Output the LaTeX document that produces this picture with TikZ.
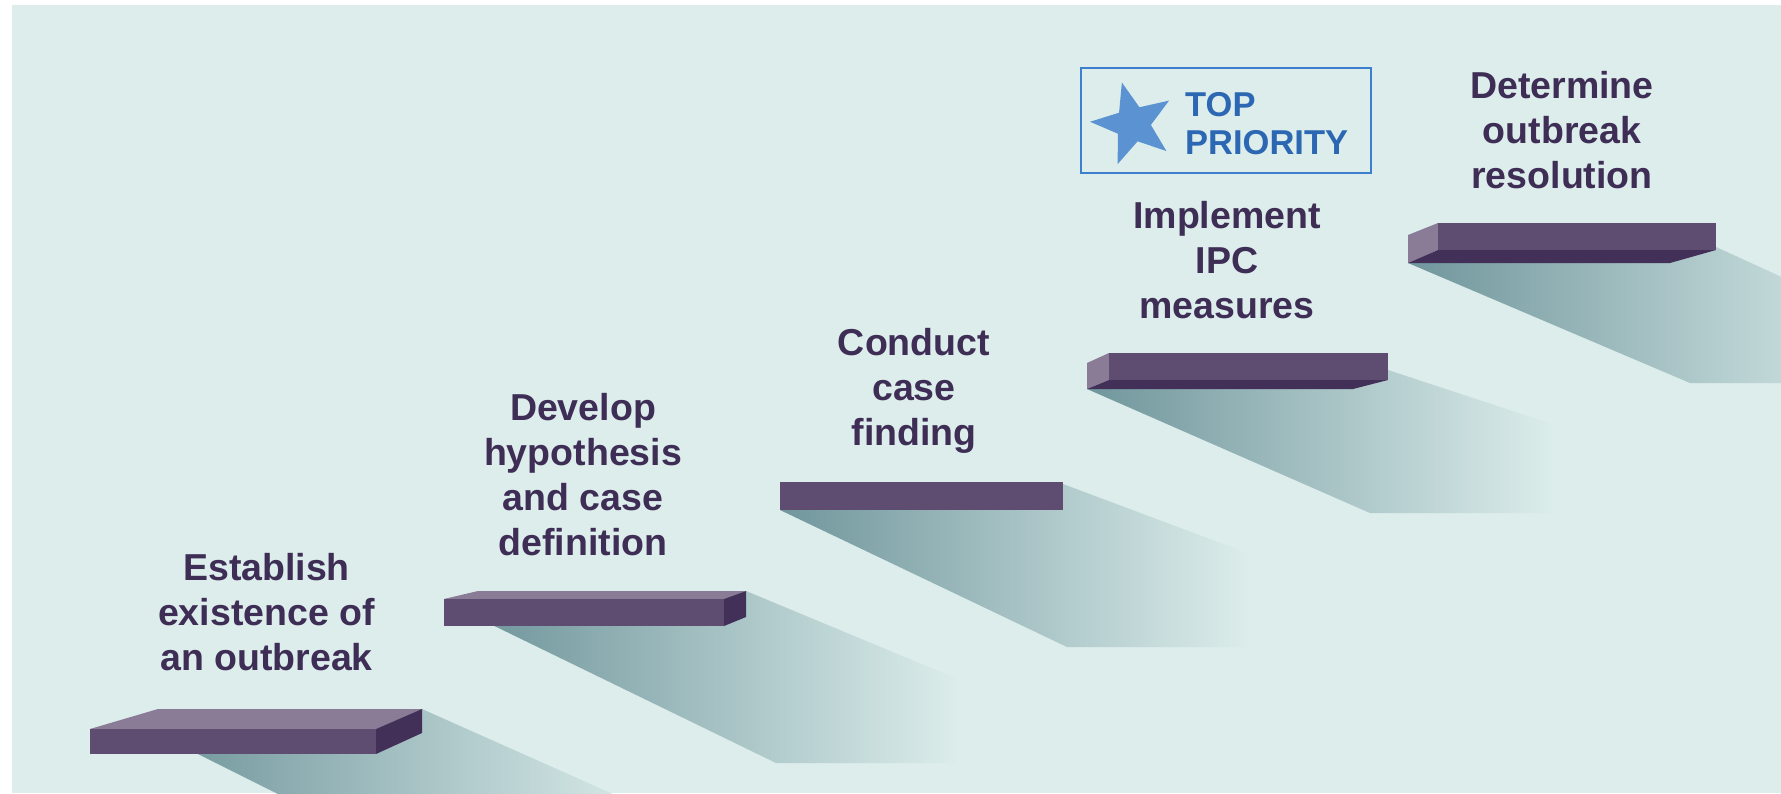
\documentclass[tikz,border=0pt]{standalone}
\usepackage{fontspec}
\setmainfont{Liberation Sans}
\usetikzlibrary{shapes.geometric}

\definecolor{bgteal}{RGB}{220,237,235}
\definecolor{shadowdark}{RGB}{112,150,156}
\definecolor{stepfront}{RGB}{94,77,112}
\definecolor{steplight}{RGB}{138,123,150}
\definecolor{stepdark}{RGB}{66,48,88}
\definecolor{txtpurple}{RGB}{62,45,85}
\definecolor{prioblue}{RGB}{60,127,205}
\definecolor{starblue}{RGB}{91,147,210}
\definecolor{priotext}{RGB}{44,103,179}

\begin{document}
\begin{tikzpicture}[x=1pt,y=-1pt,
  steplabel/.style={font=\bfseries\fontsize{37.5}{45}\selectfont, text=txtpurple,
    align=center, anchor=north, inner sep=0pt},
  priolabel/.style={font=\bfseries\fontsize{34.5}{38.5}\selectfont, text=priotext,
    align=left, anchor=north west, inner sep=0pt},
  shadowfill/.style={left color=shadowdark, right color=bgteal},
  frontface/.style={fill=stepfront},
  lightface/.style={fill=steplight},
  darkface/.style={fill=stepdark}]

\useasboundingbox (0,0) rectangle (1781,793);
\fill[white] (0,0) rectangle (1781,793);
\fill[bgteal] (12,5) rectangle (1781,793);

% cast shadows of the steps
\begin{scope}
  \clip (12,5) rectangle (1781,793);
  \shade[shadowfill] (158,734) -- (320,815) -- (660,815) -- (422,709) -- cycle;
  \shade[shadowfill] (478,618) -- (776,763) -- (960,763) -- (960,680) -- (746,591) -- cycle;
  \shade[shadowfill] (780,510) -- (1067,647) -- (1250,647) -- (1250,554) -- (1063,484) -- cycle;
  \shade[shadowfill] (1087,389) -- (1370,513) -- (1555,513) -- (1555,425) -- (1388,370) -- cycle;
  \shade[shadowfill] (1408,263) -- (1690,383) -- (1900,383) -- (1900,331) -- (1716,247) -- cycle;
\end{scope}

% step 1: top and right side visible
\fill[lightface] (90,729) -- (158,709) -- (422,709) -- (376,729) -- cycle;
\fill[frontface] (90,729) rectangle (376,754);
\fill[darkface] (376,729) -- (422,709) -- (422,733) -- (376,754) -- cycle;

% step 2
\fill[lightface] (444,599) -- (478,591) -- (746,591) -- (724,599) -- cycle;
\fill[frontface] (444,599) rectangle (724,626);
\fill[darkface] (724,599) -- (746,591) -- (746,617) -- (724,626) -- cycle;

% step 3: seen straight on
\fill[frontface] (780,482) rectangle (1063,510);

% step 4: left side and underside visible
\fill[lightface] (1087,363) -- (1109,353) -- (1109,380) -- (1087,389) -- cycle;
\fill[frontface] (1109,353) rectangle (1388,380);
\fill[darkface] (1087,389) -- (1109,380) -- (1388,380) -- (1353,389) -- cycle;

% step 5
\fill[lightface] (1408,235) -- (1438,223) -- (1438,250) -- (1408,263) -- cycle;
\fill[frontface] (1438,223) rectangle (1716,250);
\fill[darkface] (1408,263) -- (1438,250) -- (1716,250) -- (1670,263) -- cycle;

% step labels
\node[steplabel] (est) at (266.5,550) {\rule{0pt}{30pt}Establish\\existence of\\an outbreak};
\node[steplabel] (dev) at (583,390) {\rule{0pt}{30pt}Develop\\hypothesis\\and case\\definition};
\node[steplabel] (cond) at (914,325) {\rule{0pt}{30pt}Conduct\\case\\finding};
\node[steplabel] (impl) at (1227,198) {\rule{0pt}{30pt}Implement\\IPC\\measures};
\node[steplabel] (det) at (1562,68) {\rule{0pt}{30pt}Determine\\outbreak\\resolution};

% priority badge
\draw[prioblue, line width=2pt] (1081,68) rectangle (1371,173);
\node[star, star points=5, star point ratio=2.4, minimum size=86pt, inner sep=0pt,
  fill=starblue, shape border rotate=15] (star) at (1133,124) {};
\node[priolabel] (prio) at (1185,88) {\rule{0pt}{28pt}TOP\\PRIORITY};
\end{tikzpicture}
\end{document}
